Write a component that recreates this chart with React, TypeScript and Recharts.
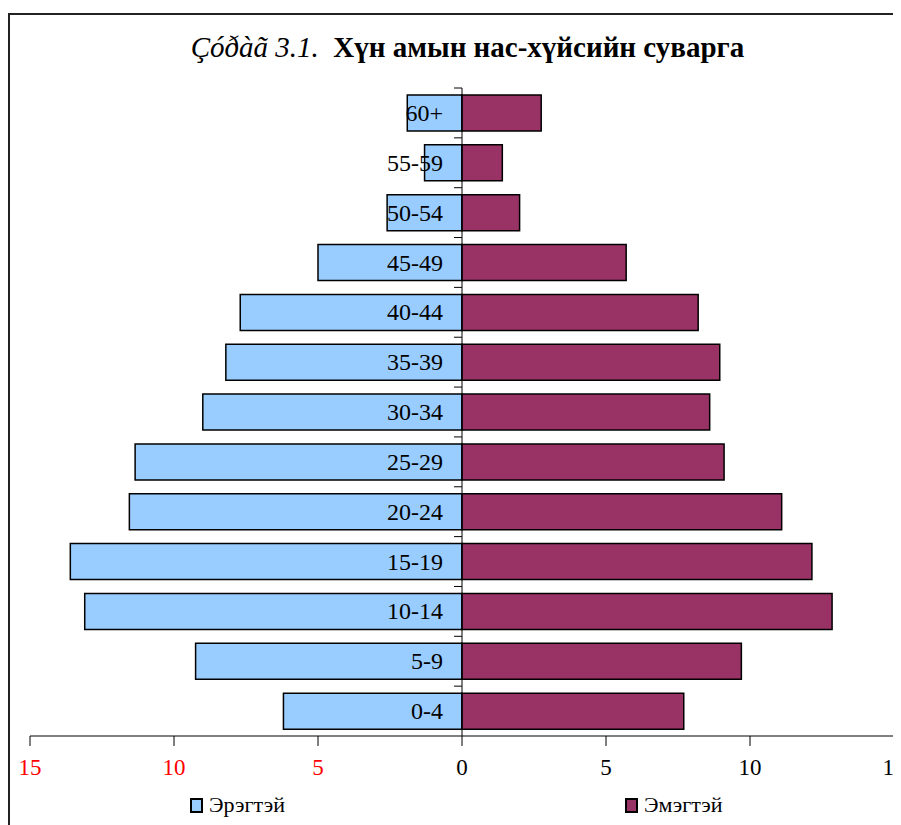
import { BarChart, Bar, XAxis, YAxis, ReferenceLine, LabelList } from "recharts";

const ageGroups = ["60+", "55-59", "50-54", "45-49", "40-44", "35-39", "30-34", "25-29", "20-24", "15-19", "10-14", "5-9", "0-4"];
const male = [1.9, 1.3, 2.6, 5.0, 7.7, 8.2, 9.0, 11.35, 11.55, 13.6, 13.1, 9.25, 6.2];
const female = [2.75, 1.4, 2.0, 5.7, 8.2, 8.95, 8.6, 9.1, 11.1, 12.15, 12.85, 9.7, 7.7];
const xTicks = [-15, -10, -5, 0, 5, 10, 15];

const data = ageGroups.map((age, i) => ({ age, male: -male[i], female: female[i] }));

const SERIF = '"Liberation Serif", "Times New Roman", serif';

function XTick(props: any) {
  const { x, y, payload } = props;
  const v = payload.value;
  return (
    <text x={x} y={y} dy={27} textAnchor="middle" fontFamily={SERIF} fontSize={23} fill={v < 0 ? "#ff0000" : "#000"}>
      {Math.abs(v)}
    </text>
  );
}

function AgeLabel(props: any) {
  const { x, y, height, value } = props;
  return (
    <g>
      <line x1={x - 8} x2={x} y1={y - 7} y2={y - 7} stroke="#000" strokeWidth={1} />
      <text x={x - 19} y={y + height / 2} dy={8} textAnchor="end" fontFamily={SERIF} fontSize={24} fill="#000">
        {value}
      </text>
    </g>
  );
}

export default function App() {
  return (
    <div style={{ position: "relative", width: 893, height: 817, fontFamily: SERIF }}>
      <div style={{ position: "absolute", left: 0, top: 5, width: 900, height: 900, border: "2px solid #222", boxSizing: "border-box" }} />
      <div style={{ position: "absolute", left: 0, top: 23, width: 893, textAlign: "center", fontSize: 29, color: "#000", whiteSpace: "nowrap", paddingLeft: 26, boxSizing: "border-box" }}>
        <span style={{ fontStyle: "italic" }}>Çóðàã 3.1.</span>
        <span style={{ fontWeight: "bold" }}>&nbsp; Хүн амын нас-хүйсийн суварга</span>
      </div>
      <div style={{ position: "absolute", left: 0, top: 0 }}>
        <BarChart
          width={893}
          height={817}
          data={data}
          layout="vertical"
          stackOffset="sign"
          barCategoryGap={7}
          margin={{ top: 80, right: 7, bottom: 0, left: 22 }}
        >
          <XAxis
            type="number"
            domain={[-15, 15]}
            ticks={xTicks}
            interval={0}
            tickSize={10}
            tick={<XTick />}
            axisLine={{ stroke: "#000" }}
            tickLine={{ stroke: "#000" }}
            height={89}
            allowDataOverflow
          />
          <YAxis type="category" dataKey="age" hide width={0} />
          <Bar dataKey="male" stackId="a" fill="#99ccff" stroke="#000" strokeWidth={1.5} isAnimationActive={false} />
          <Bar dataKey="female" stackId="a" fill="#993366" stroke="#000" strokeWidth={1.5} isAnimationActive={false}>
            <LabelList dataKey="age" content={<AgeLabel />} />
          </Bar>
          <ReferenceLine x={0} stroke="#000" strokeWidth={1} />
        </BarChart>
      </div>
      <div style={{ position: "absolute", top: 784, left: 182, display: "flex", alignItems: "center", fontSize: 22 }}>
        <span style={{ display: "inline-block", width: 9, height: 11, background: "#99ccff", border: "2px solid #000", marginRight: 6 }} />
        Эрэгтэй
      </div>
      <div style={{ position: "absolute", top: 784, left: 617, display: "flex", alignItems: "center", fontSize: 22 }}>
        <span style={{ display: "inline-block", width: 9, height: 11, background: "#993366", border: "2px solid #000", marginRight: 6 }} />
        Эмэгтэй
      </div>
    </div>
  );
}
